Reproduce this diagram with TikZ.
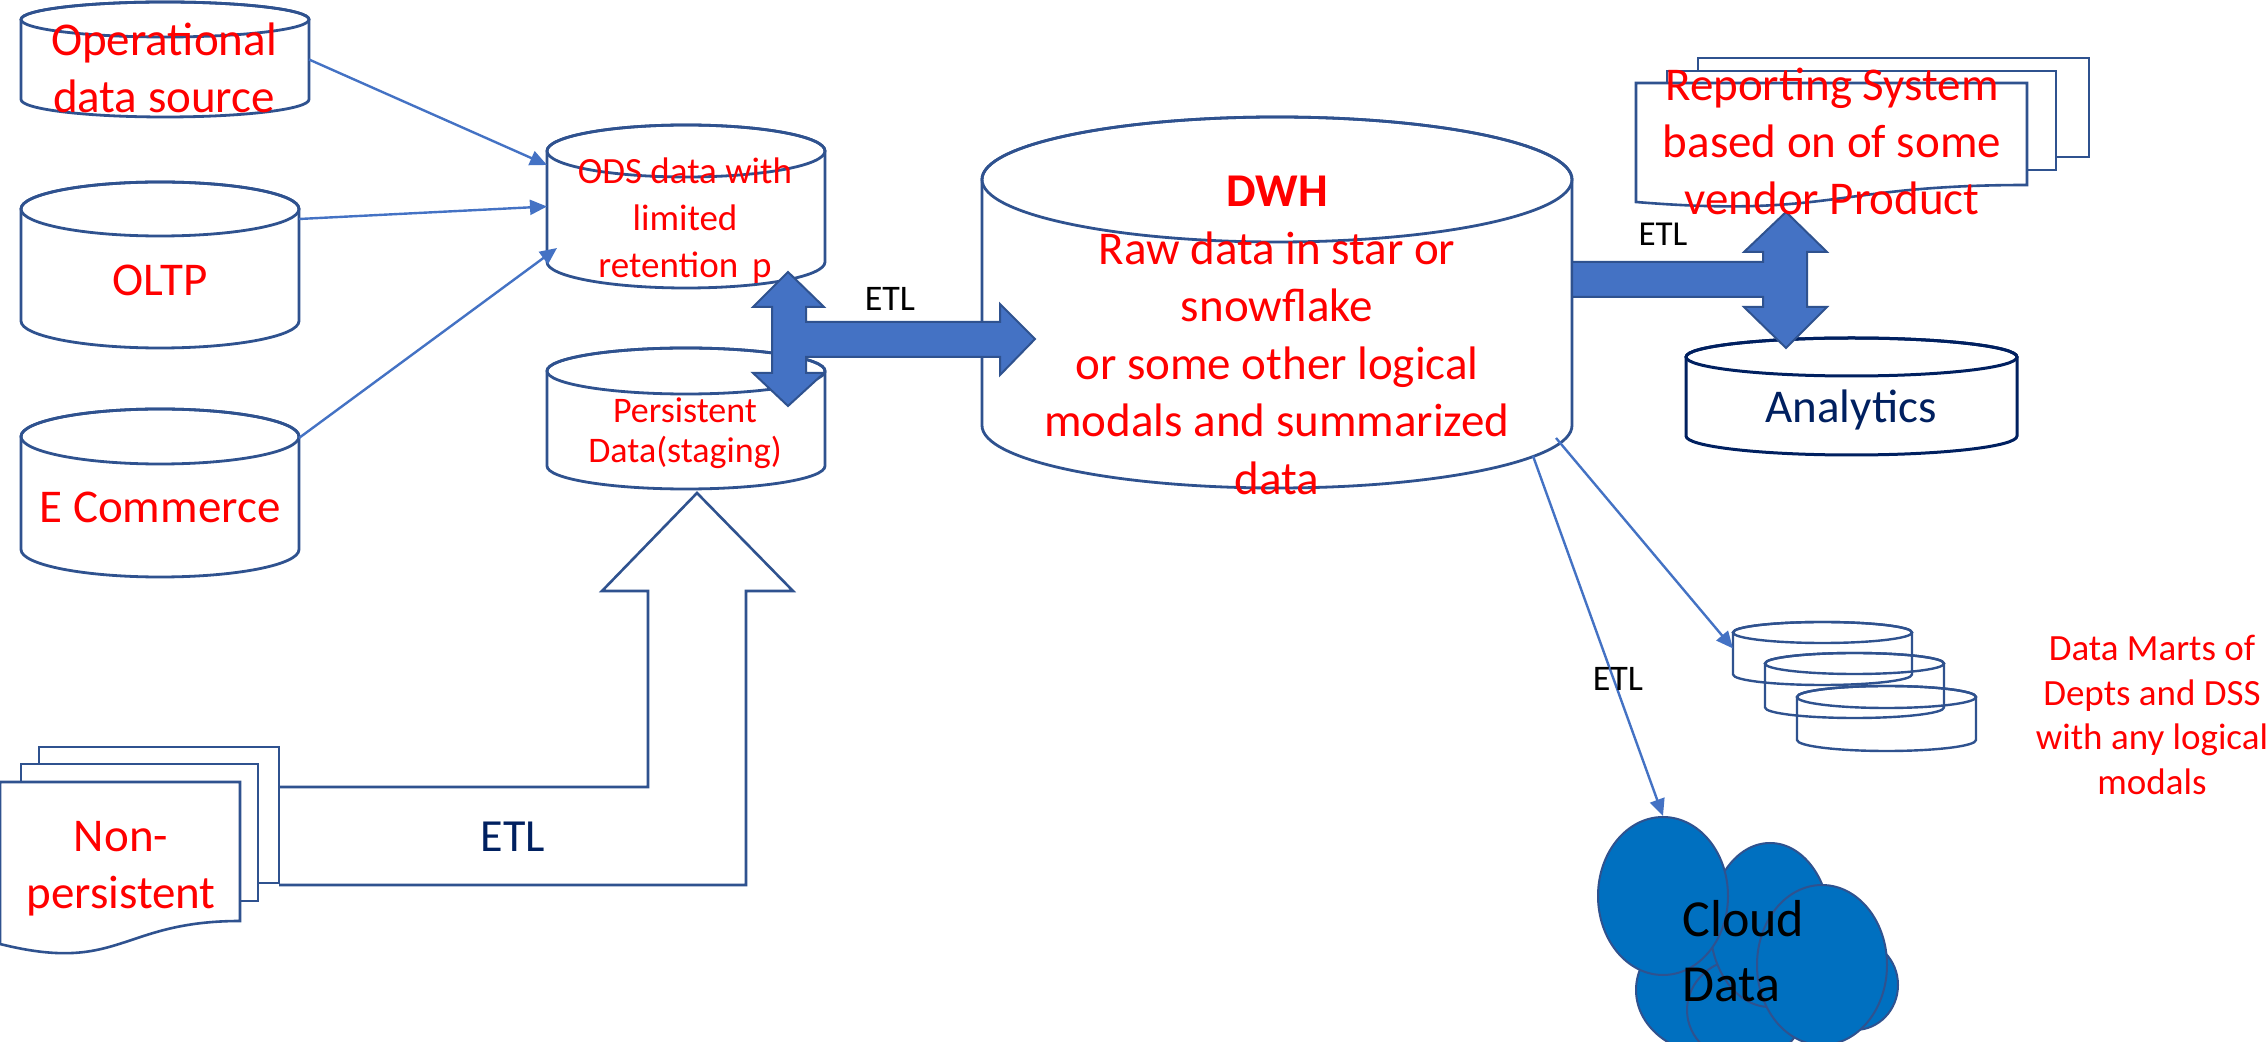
\documentclass[tikz,border=0pt]{standalone}
\usepackage{fontspec}
\setmainfont{Carlito}
\usetikzlibrary{arrows.meta,calc,shapes.geometric}

\definecolor{cylline}{HTML}{2F528F}
\definecolor{flowblue}{HTML}{4472C4}
\definecolor{navytext}{HTML}{002060}
\definecolor{cloudblue}{HTML}{0070C0}
\definecolor{redtext}{HTML}{FF0000}

\newcommand\tsz[2]{\fontsize{#1}{#2}\selectfont}

% database cylinder: #1 style, #2 left, #3 top, #4 right, #5 bottom, #6 ellipse half-height
\newcommand\dbshape[6]{%
  \pgfmathsetmacro\dbcx{(#2+#4)/2}%
  \pgfmathsetmacro\dbrx{(#4-#2)/2}%
  \path[#1] (#2,#3+#6) -- (#2,#5-#6)
     arc[start angle=180,end angle=0,x radius=\dbrx,y radius=#6]
     -- (#4,#3+#6)
     arc[start angle=0,end angle=-180,x radius=\dbrx,y radius=#6] -- cycle;
  \path[#1,fill=none] (\dbcx,#3+#6) ellipse[x radius=\dbrx,y radius=#6];
}

\begin{document}
\begin{tikzpicture}[x=0.5pt,y=0.5pt,yscale=-1,
  area/.style={rectangle,inner sep=0pt,outer sep=0pt,draw=none},
  cyl/.style={draw=cylline,line width=1.4pt,fill=white},
  martcyl/.style={draw=cylline,line width=1.2pt},
  navycyl/.style={draw=navytext,line width=1.5pt,fill=white},
  docpage/.style={draw=cylline,line width=1.3pt,fill=white},
  thinflow/.style={draw=flowblue,line width=1.2pt,-{Triangle[length=8.5pt,width=7.5pt]}},
  blockarrow/.style={fill=flowblue,draw=cylline,line width=1pt,line join=miter},
  hollowarrow/.style={fill=white,draw=cylline,line width=1.3pt,line join=miter},
  lobe/.style={fill=cloudblue,draw=cylline,line width=1pt},
  redlbl/.style={inner sep=0pt,align=center,text=redtext},
  etllbl/.style={inner sep=0pt,text=black,font=\tsz{18pt}{22pt}},
  bigfont/.style={font=\tsz{23.5pt}{28.5pt}}
]
\fill[white] (0,0) rectangle (2267,1042);
\useasboundingbox (0,0) rectangle (2267,1042);

% ---------- sources ----------
\node[area,minimum width=144pt,minimum height=57.5pt] (opsrc) at (165,59.5) {};
\dbshape{cyl}{21}{2}{309}{117}{17.5}
\node[area,minimum width=139pt,minimum height=83pt] (oltp) at (160,265) {};
\dbshape{cyl}{21}{182}{299}{348}{27}
\node[area,minimum width=139pt,minimum height=84pt] (ecom) at (160,493) {};
\dbshape{cyl}{21}{409}{299}{577}{27.5}

% ---------- staging layer ----------
\node[area,minimum width=139pt,minimum height=81.5pt] (ods) at (686,206.5) {};
\dbshape{cyl}{547}{125}{825}{288}{26}
\node[area,minimum width=139pt,minimum height=70.5pt] (pers) at (686,418.5) {};
\dbshape{cyl}{547}{348}{825}{489}{23}

% ---------- warehouse ----------
\node[area,minimum width=295pt,minimum height=185.5pt] (dwh) at (1277,302.5) {};
\dbshape{cyl}{982}{117}{1572}{488}{62.5}

% ---------- analytics ----------
\node[area,minimum width=165.5pt,minimum height=58.5pt] (analytics) at (1851.5,396.5) {};
\dbshape{navycyl}{1686}{338}{2017}{455}{19}

% ---------- data marts ----------
\node[area,minimum width=89.5pt,minimum height=31.5pt] (mart1) at (1822.5,653.5) {};
\node[area,minimum width=89.5pt,minimum height=32.5pt] (mart2) at (1854.5,685.5) {};
\node[area,minimum width=89.5pt,minimum height=32.5pt] (mart3) at (1886.5,718.5) {};
\dbshape{martcyl}{1733}{622}{1912}{685}{10.5}
\dbshape{martcyl}{1765}{653}{1944}{718}{10.5}
\dbshape{martcyl}{1797}{686}{1976}{751}{11}

% ---------- reporting system (stacked pages) ----------
\path[docpage] (1698,58) rectangle (2089,157);
\path[docpage] (1667,71) rectangle (2056,170);
\path[docpage] (1636,83) -- (2027,83) -- (2027,185)
   .. controls (1831.5,185) and (1831.5,218) .. (1636,202) -- cycle;
\node[area,minimum width=195.5pt,minimum height=59.5pt] (report) at (1831.5,142.5) {};

% ---------- non-persistent source (stacked pages) ----------
\path[hollowarrow] (279,787) -- (648,787) -- (648,591) -- (602,591) -- (697,493)
   -- (793,591) -- (746,591) -- (746,885) -- (279,885);
\path[docpage] (39,747) rectangle (279,883);
\path[docpage] (21,764) rectangle (258,901);
\path[docpage] (0,782) -- (240,782) -- (240,921)
   .. controls (120,921) and (120,974) .. (0,944) -- cycle;
\node[area,minimum width=120pt,minimum height=81pt] (nonpers) at (120,863) {};

% ---------- cloud ----------
\path[lobe] (1712,990) ellipse[x radius=76,y radius=64];
\path[lobe] (1745,1010) ellipse[x radius=58,y radius=52];
\path[lobe] (1855,985) ellipse[x radius=43,y radius=45];
\path[lobe] (1770,925) ellipse[x radius=60,y radius=82];
\path[lobe] (1822,965) ellipse[x radius=65,y radius=80];
\node[ellipse,lobe,inner sep=0pt,minimum width=65pt,minimum height=79pt] (cloud) at (1663,896) {};

% ---------- block arrows ----------
\path[blockarrow] (788,272) -- (824,307) -- (806,307) -- (806,322) -- (1000,322)
   -- (1000,304) -- (1035,339) -- (1000,375) -- (1000,357) -- (806,357)
   -- (806,373) -- (824,373) -- (788,406) -- (753,373) -- (772,373)
   -- (772,307) -- (753,307) -- cycle;
\path[blockarrow] (1786,212) -- (1827,252) -- (1807,252) -- (1807,307)
   -- (1827,307) -- (1786,348) -- (1744,307) -- (1763,307) -- (1763,297)
   -- (1572,297) -- (1572,262) -- (1763,262) -- (1763,252) -- (1744,252) -- cycle;

% ---------- thin connectors ----------
\draw[thinflow] (opsrc.east) -- ($(ods.west)+(0,-41.5)$);
\draw[thinflow] ($(oltp.north east)+(0,37)$) -- (ods.west);
\draw[thinflow] ($(ecom.north east)+(0,29)$) -- ($(ods.south west)+(10,-40)$);
\draw[thinflow] ($(dwh.south east)+(-16,-50)$) -- ($(mart1.west)+(0,-5)$);
\draw[thinflow] ($(dwh.south east)+(-39,-32)$) -- (cloud.north);

% ---------- labels ----------
\node[redlbl,bigfont] (opsrc-t) at (164,68) {Operational\\data source};
\node[redlbl,bigfont] (oltp-t) at (160,280) {OLTP};
\node[redlbl,bigfont] (ecom-t) at (160,507) {E Commerce};
\node[redlbl,font=\tsz{18.5pt}{23.5pt}] (ods-t) at (685,220.7) {ODS data with\\limited\\retention\hspace{0.15em} p};
\node[redlbl,font=\tsz{18pt}{20pt}] (pers-t) at (685,433) {Persistent\\Data(staging)};
\node[redlbl,font=\tsz{23.5pt}{28.75pt}] (dwh-t) at (1277,335.3)
  {\textbf{DWH}\\Raw data in star or\\snowflake\\or some other logical\\modals and summarized\\data};
\node[redlbl,bigfont] (report-t) at (1832,141.4) {Reporting System\\based on of some\\vendor Product};
\node[inner sep=0pt,text=navytext,font=\tsz{23.5pt}{28.5pt}] (analytics-t) at (1851,410) {Analytics};
\node[redlbl,font=\tsz{18.5pt}{22.25pt}] (marts-t) at (2152,715) {Data Marts of\\Depts and DSS\\with any logical\\modals};
\node[inner sep=0pt,align=left,anchor=west,text=black,font=\tsz{26pt}{32.5pt}] (cloud-t) at (1682,951) {Cloud\\Data};
\node[redlbl,bigfont] (nonpers-t) at (121,868.4) {Non-\\persistent};

\node[etllbl] (etl-stage) at (890,299) {ETL};
\node[inner sep=0pt,text=navytext,font=\tsz{23pt}{27pt}] (etl-np) at (513,837) {ETL};
\node[etllbl,font=\tsz{17.5pt}{21pt}] (etl-report) at (1663,234) {ETL};
\node[etllbl] (etl-cloud) at (1618,678.5) {ETL};
\end{tikzpicture}
\end{document}
